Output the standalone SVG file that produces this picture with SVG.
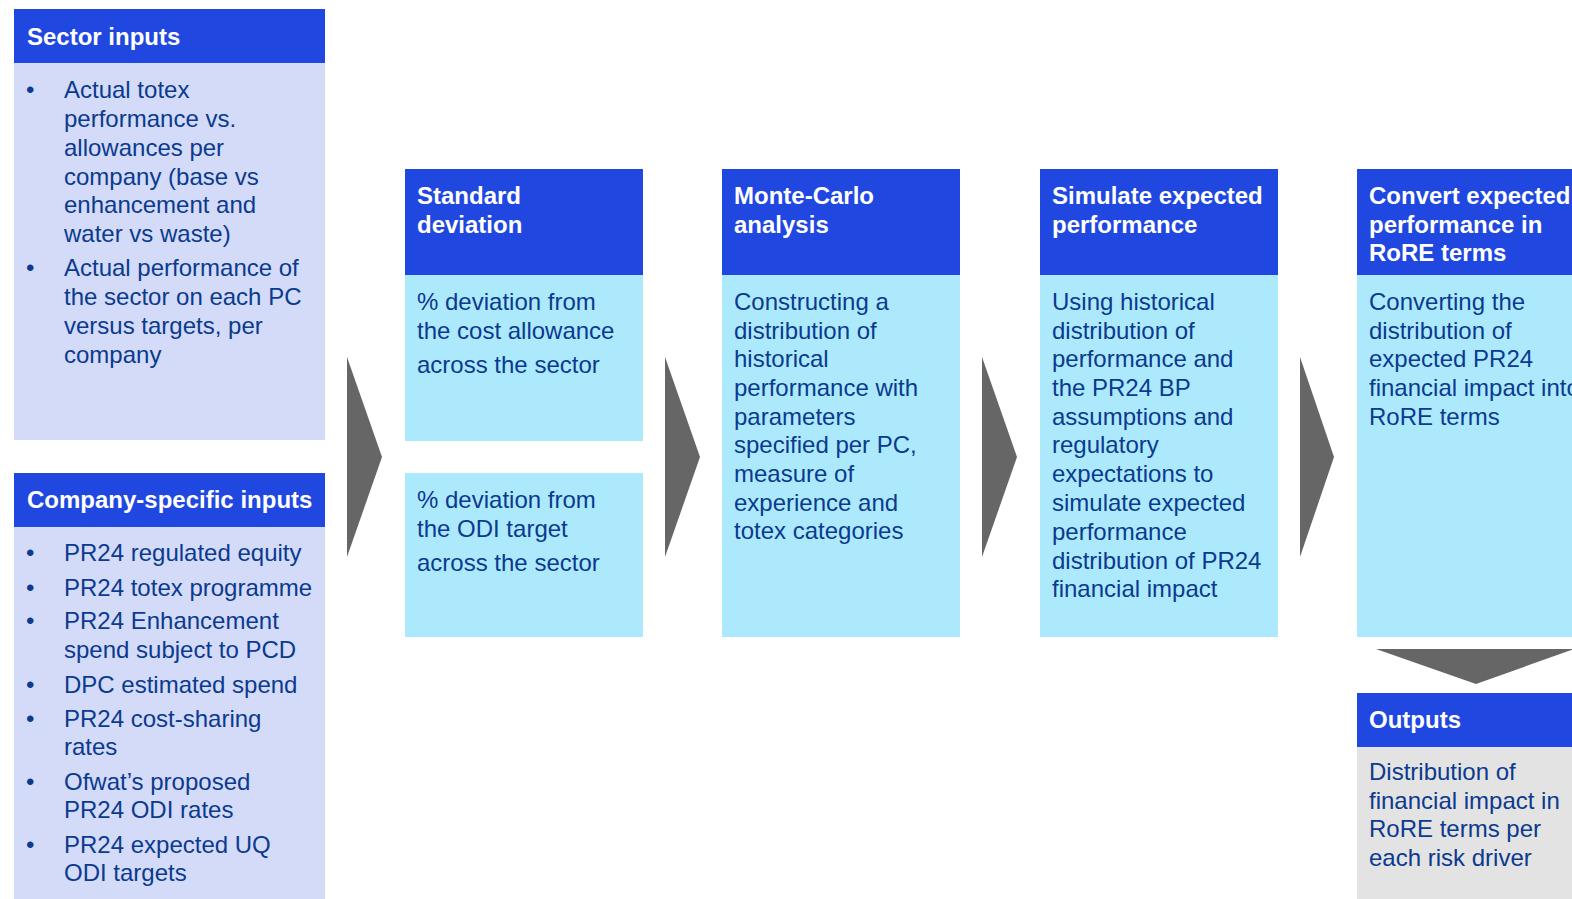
<svg xmlns="http://www.w3.org/2000/svg" width="1572" height="899" viewBox="0 0 1572 899">
<style>
.hdr{fill:#2047E0}
.inp{fill:#D3DBF8}
.stp{fill:#ADE9FD}
.out{fill:#E3E3E3}
.ht{font-family:"Liberation Sans",Arial,sans-serif;font-size:24px;font-weight:bold;fill:#FFFFFF}
.bt{font-family:"Liberation Sans",Arial,sans-serif;font-size:24px;fill:#0B3A8E}
.arr{fill:#666666}
</style>
<rect width="1572" height="899" fill="#FFFFFF"/>
<g id="sector-inputs">
<rect class="hdr" x="14" y="9" width="311" height="54"/>
<rect class="inp" x="14" y="63" width="311" height="377"/>
<text class="ht" x="27" y="45">Sector inputs</text>
<g class="bt">
<text x="26" y="98">•</text>
<text x="64" y="98">Actual totex</text>
<text x="64" y="127">performance vs.</text>
<text x="64" y="156">allowances per</text>
<text x="64" y="185">company (base vs</text>
<text x="64" y="213">enhancement and</text>
<text x="64" y="242">water vs waste)</text>
<text x="26" y="276">•</text>
<text x="64" y="276">Actual performance of</text>
<text x="64" y="305">the sector on each PC</text>
<text x="64" y="334">versus targets, per</text>
<text x="64" y="363">company</text>
</g>
</g>
<g id="company-inputs">
<rect class="hdr" x="14" y="473" width="311" height="54"/>
<rect class="inp" x="14" y="527" width="311" height="372"/>
<text class="ht" x="27" y="508">Company-specific inputs</text>
<g class="bt">
<text x="26" y="561">•</text>
<text x="64" y="561">PR24 regulated equity</text>
<text x="26" y="596">•</text>
<text x="64" y="596">PR24 totex programme</text>
<text x="26" y="629">•</text>
<text x="64" y="629">PR24 Enhancement</text>
<text x="64" y="658">spend subject to PCD</text>
<text x="26" y="693">•</text>
<text x="64" y="693">DPC estimated spend</text>
<text x="26" y="727">•</text>
<text x="64" y="727">PR24 cost-sharing</text>
<text x="64" y="755">rates</text>
<text x="26" y="790">•</text>
<text x="64" y="790">Ofwat’s proposed</text>
<text x="64" y="818">PR24 ODI rates</text>
<text x="26" y="853">•</text>
<text x="64" y="853">PR24 expected UQ</text>
<text x="64" y="881">ODI targets</text>
</g>
</g>
<g id="standard-deviation">
<rect class="hdr" x="405" y="169" width="238" height="106"/>
<rect class="stp" x="405" y="275" width="238" height="166"/>
<rect class="stp" x="405" y="473" width="238" height="164"/>
<text class="ht" x="417" y="204">Standard</text>
<text class="ht" x="417" y="233">deviation</text>
<g class="bt">
<text x="417" y="310">% deviation from</text>
<text x="417" y="339">the cost allowance</text>
<text x="417" y="373">across the sector</text>
<text x="417" y="508">% deviation from</text>
<text x="417" y="537">the ODI target</text>
<text x="417" y="571">across the sector</text>
</g>
</g>
<g id="monte-carlo">
<rect class="hdr" x="722" y="169" width="238" height="106"/>
<rect class="stp" x="722" y="275" width="238" height="362"/>
<text class="ht" x="734" y="204">Monte-Carlo</text>
<text class="ht" x="734" y="233">analysis</text>
<g class="bt">
<text x="734" y="310">Constructing a</text>
<text x="734" y="339">distribution of</text>
<text x="734" y="367">historical</text>
<text x="734" y="396">performance with</text>
<text x="734" y="425">parameters</text>
<text x="734" y="453">specified per PC,</text>
<text x="734" y="482">measure of</text>
<text x="734" y="511">experience and</text>
<text x="734" y="539">totex categories</text>
</g>
</g>
<g id="simulate">
<rect class="hdr" x="1040" y="169" width="238" height="106"/>
<rect class="stp" x="1040" y="275" width="238" height="362"/>
<text class="ht" x="1052" y="204">Simulate expected</text>
<text class="ht" x="1052" y="233">performance</text>
<g class="bt">
<text x="1052" y="310">Using historical</text>
<text x="1052" y="339">distribution of</text>
<text x="1052" y="367">performance and</text>
<text x="1052" y="396">the PR24 BP</text>
<text x="1052" y="425">assumptions and</text>
<text x="1052" y="453">regulatory</text>
<text x="1052" y="482">expectations to</text>
<text x="1052" y="511">simulate expected</text>
<text x="1052" y="540">performance</text>
<text x="1052" y="569">distribution of PR24</text>
<text x="1052" y="597">financial impact</text>
</g>
</g>
<g id="convert">
<rect class="hdr" x="1357" y="169" width="238" height="106"/>
<rect class="stp" x="1357" y="275" width="238" height="362"/>
<text class="ht" x="1369" y="204">Convert expected</text>
<text class="ht" x="1369" y="233">performance in</text>
<text class="ht" x="1369" y="261">RoRE terms</text>
<g class="bt">
<text x="1369" y="310">Converting the</text>
<text x="1369" y="339">distribution of</text>
<text x="1369" y="367">expected PR24</text>
<text x="1369" y="396">financial impact into</text>
<text x="1369" y="425">RoRE terms</text>
</g>
</g>
<g id="outputs">
<rect class="hdr" x="1357" y="693" width="238" height="54"/>
<rect class="out" x="1357" y="747" width="238" height="152"/>
<text class="ht" x="1369" y="728">Outputs</text>
<g class="bt">
<text x="1369" y="780">Distribution of</text>
<text x="1369" y="809">financial impact in</text>
<text x="1369" y="837">RoRE terms per</text>
<text x="1369" y="866">each risk driver</text>
</g>
</g>
<g id="connectors">
<polygon class="arr" points="347,357 382,457 347,557"/>
<polygon class="arr" points="665,357 700,457 665,557"/>
<polygon class="arr" points="982,357 1017,457 982,557"/>
<polygon class="arr" points="1300,357 1334,457 1300,557"/>
<polygon class="arr" points="1376,649 1574,649 1476,684"/>
</g>
</svg>
